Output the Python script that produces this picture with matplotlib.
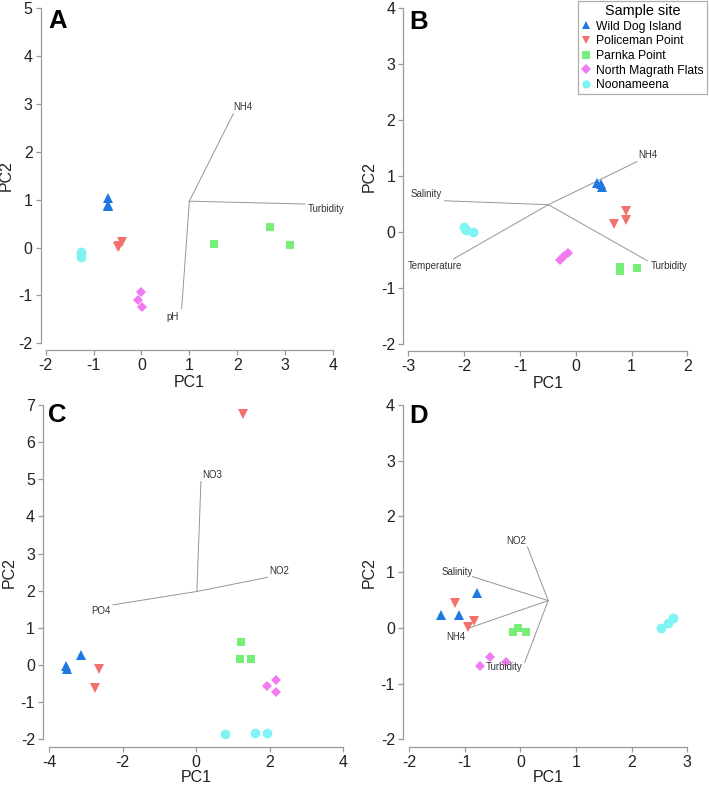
import matplotlib
matplotlib.use("Agg")
import matplotlib.pyplot as plt
from matplotlib.lines import Line2D

plt.rcParams['font.family'] = ['Liberation Sans', 'DejaVu Sans']
plt.rcParams['axes.unicode_minus'] = False

W, H = 709, 785
AXIS_GREY = "#9a9a9a"
TEXT_COL = "#222222"
VEC_COL = "#959595"

sites = ['Wild Dog Island', 'Policeman Point', 'Parnka Point', 'North Magrath Flats', 'Noonameena']
site_markers = ['^', 'v', 's', 'D', 'o']
site_colors = ['#1f78e0', '#f2716c', '#77ee77', '#f07af0', '#80f4f4']
site_sizes = [7.5, 7.5, 6.2, 5.6, 7.0]

# ---- panel A ----
a_x = [[-0.70, -0.70, -0.69], [-0.48, -0.46, -0.41], [1.52, 2.68, 3.11],
       [-0.02, -0.07, 0.02], [-1.26, -1.26, -1.27]]
a_y = [[1.04, 0.87, 0.90], [0.02, 0.04, 0.12], [0.07, 0.42, 0.06],
       [-0.93, -1.09, -1.24], [-0.09, -0.19, -0.13]]
a_centre = (1.0, 0.97)
a_vec_names = ['NH4', 'Turbidity', 'pH']
a_vec_x = [1.92, 3.41, 0.84]
a_vec_y = [2.80, 0.91, -1.27]
a_lab_x = [2.12, 3.85, 0.66]
a_lab_y = [2.94, 0.80, -1.44]

# ---- panel B ----
b_x = [[0.39, 0.46, 0.48], [0.91, 0.91, 0.69], [0.79, 0.79, 1.09],
       [-0.29, -0.21, -0.13], [-2.00, -1.97, -1.84]]
b_y = [[0.87, 0.86, 0.80], [0.37, 0.21, 0.15], [-0.62, -0.70, -0.64],
       [-0.49, -0.43, -0.38], [0.10, 0.04, 0.00]]
b_centre = (-0.49, 0.49)
b_vec_names = ['NH4', 'Salinity', 'Temperature', 'Turbidity']
b_vec_x = [1.10, -2.35, -2.19, 1.28]
b_vec_y = [1.26, 0.56, -0.48, -0.51]
b_lab_x = [1.30, -2.68, -2.52, 1.67]
b_lab_y = [1.37, 0.68, -0.60, -0.61]

# ---- panel C ----
c_x = [[-3.13, -3.55, -3.50], [1.26, -2.64, -2.74], [1.22, 1.20, 1.49],
       [2.18, 1.93, 2.18], [0.79, 1.59, 1.93]]
c_y = [[0.27, -0.04, -0.12], [6.76, -0.12, -0.63], [0.63, 0.15, 0.15],
       [-0.40, -0.57, -0.72], [-1.87, -1.84, -1.82]]
c_centre = (0.02, 1.98)
c_vec_names = ['NO3', 'NO2', 'PO4']
c_vec_x = [0.13, 1.94, -2.26]
c_vec_y = [4.94, 2.36, 1.62]
c_lab_x = [0.43, 2.26, -2.59]
c_lab_y = [5.12, 2.53, 1.46]

# ---- panel D ----
d_x = [[-0.77, -1.42, -1.10], [-1.17, -0.84, -0.94], [-0.13, -0.04, 0.11],
       [-0.55, -0.73, -0.26], [2.52, 2.65, 2.74]]
d_y = [[0.62, 0.23, 0.23], [0.44, 0.12, 0.02], [-0.07, 0.00, -0.08],
       [-0.52, -0.69, -0.61], [0.00, 0.08, 0.18]]
d_centre = (0.50, 0.49)
d_vec_names = ['NO2', 'Salinity', 'NH4', 'Turbidity']
d_vec_x = [0.13, -0.86, -0.94, 0.08]
d_vec_y = [1.45, 0.92, -0.01, -0.62]
d_lab_x = [-0.08, -1.14, -1.15, -0.29]
d_lab_y = [1.56, 1.01, -0.16, -0.71]


# build an axes whose tick range sits on the given pixel span (R style axes)
def makeAxes(fig, xpx, ypx, xlim, ylim, xticks, yticks, offs, xlabpad):
    left, right = xpx
    top, bottom = ypx
    ax = fig.add_axes([left / W, 1 - bottom / H, (right - left) / W, (bottom - top) / H])
    ax.set_xlim(xlim)
    ax.set_ylim(ylim)
    ax.set_xticks(xticks)
    ax.set_yticks(yticks)
    ax.spines['top'].set_visible(False)
    ax.spines['right'].set_visible(False)
    for s in ('left', 'bottom'):
        ax.spines[s].set_color(AXIS_GREY)
        ax.spines[s].set_linewidth(0.9)
    ax.spines['left'].set_position(('outward', offs[0] * 72 / 100))
    ax.spines['bottom'].set_position(('outward', offs[1] * 72 / 100))
    ax.tick_params(direction='out', length=3.6, width=0.9, color=AXIS_GREY,
                   labelsize=11.5, labelcolor=TEXT_COL, pad=2.2)
    ax.set_xlabel('PC1', fontsize=11.5, color=TEXT_COL, labelpad=xlabpad)
    ax.set_ylabel('PC2', fontsize=11.5, color=TEXT_COL, labelpad=3)
    ax.patch.set_alpha(0)
    return ax


def drawPanel(ax, xs, ys, centre, names, vx, vy, lx, ly):
    for i in range(len(sites)):
        ax.plot(xs[i], ys[i], linestyle='none', marker=site_markers[i],
                markersize=site_sizes[i], color=site_colors[i],
                markeredgewidth=0, clip_on=False, zorder=3)
    for n, ex, ey, tx, ty in zip(names, vx, vy, lx, ly):
        ax.plot([centre[0], ex], [centre[1], ey], color=VEC_COL, linewidth=0.7,
                clip_on=False, zorder=2)
        ax.text(tx, ty, n, fontsize=7, color='#333333', ha='center', va='center',
                zorder=4)


fig = plt.figure(figsize=(W / 100, H / 100), dpi=100)

axA = makeAxes(fig, (45.7, 333.0), (8.3, 343.3), (-2, 4), (-2, 5),
               range(-2, 5), range(-2, 6), (5, 7), 1.5)
drawPanel(axA, a_x, a_y, a_centre, a_vec_names, a_vec_x, a_vec_y, a_lab_x, a_lab_y)

axB = makeAxes(fig, (408.3, 687.3), (8.3, 344.0), (-3, 2), (-2, 4),
               range(-3, 3), range(-2, 5), (5, 7), 1.5)
drawPanel(axB, b_x, b_y, b_centre, b_vec_names, b_vec_x, b_vec_y, b_lab_x, b_lab_y)

axC = makeAxes(fig, (49.0, 343.3), (405.0, 739.3), (-4, 4), (-2, 7),
               range(-4, 5, 2), range(-2, 8), (6, 7.5), 0.0)
drawPanel(axC, c_x, c_y, c_centre, c_vec_names, c_vec_x, c_vec_y, c_lab_x, c_lab_y)

axD = makeAxes(fig, (409.0, 687.3), (405.0, 739.3), (-2, 3), (-2, 4),
               range(-2, 4), range(-2, 5), (6, 7.5), 0.0)
drawPanel(axD, d_x, d_y, d_centre, d_vec_names, d_vec_x, d_vec_y, d_lab_x, d_lab_y)

# panel letters
for letter, px, py in [('A', 48, 28.5), ('B', 409, 29), ('C', 47.5, 421.5), ('D', 409, 423)]:
    fig.text(px / W, 1 - py / H, letter, fontsize=18.5, fontweight='bold',
             color='black', ha='left', va='baseline')

# legend
handles = [Line2D([], [], linestyle='none', marker=m, color=c, markersize=s * 0.85,
                  markeredgewidth=0)
           for m, c, s in zip(site_markers, site_colors, site_sizes)]
leg = fig.legend(handles, sites, title='Sample site', loc='upper right',
                 bbox_to_anchor=(707 / W, 1 - 1 / H), fontsize=8.7,
                 title_fontsize=10.4, frameon=True, fancybox=False,
                 edgecolor=AXIS_GREY, borderpad=0.25, labelspacing=0.22,
                 handlelength=0.9, handletextpad=0.4, borderaxespad=0)
leg.get_frame().set_linewidth(0.9)

fig.savefig('out.png', dpi=100)
